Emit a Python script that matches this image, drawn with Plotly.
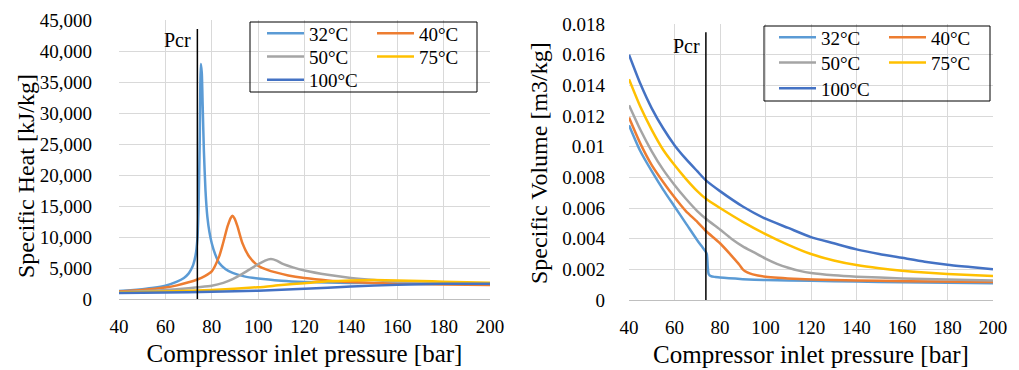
import plotly.graph_objects as go

# ---------------- data ----------------
temps = ["32°C", "40°C", "50°C", "75°C", "100°C"]
colors = ["#5B9BD5", "#ED7D31", "#A5A5A5", "#FFC000", "#4472C4"]

pcr = 73.8

# Specific heat [kJ/kg] vs pressure [bar]
cp32_p = [40, 45, 50, 55, 60, 65, 68, 70, 71, 72, 73, 73.8, 74.3, 74.8, 75.3, 75.7, 76.1, 76.6, 77.3, 78.1, 79, 80, 81.5, 83.2, 86, 89, 94, 100, 110, 120, 130, 140, 150, 160, 170, 180, 190, 200]
cp32 = [1300, 1420, 1580, 1800, 2150, 2800, 3400, 4100, 4700, 5500, 7000, 9600, 14500, 25000, 37900, 36500, 31000, 24000, 17500, 13300, 10800, 9000, 7200, 5800, 4800, 4200, 3650, 3300, 2950, 2750, 2650, 2600, 2550, 2500, 2480, 2460, 2440, 2420]

cp40_p = [40, 50, 60, 65, 70, 73.8, 77, 80, 83.2, 84.9, 86.8, 88.2, 88.9, 89.8, 91.1, 93.2, 96.1, 100, 104, 107.6, 113, 120, 130, 140, 150, 160, 180, 200]
cp40 = [1200, 1450, 1850, 2200, 2700, 3150, 3700, 4450, 6870, 9030, 11700, 13100, 13430, 13000, 11700, 9030, 6870, 5370, 4700, 4290, 3800, 3390, 3000, 2750, 2600, 2500, 2350, 2250]

cp50_p = [40, 50, 60, 70, 73.8, 80, 85, 89, 93, 96, 100, 103, 105.5, 108, 110.4, 115, 120, 130, 140, 150, 160, 170, 180, 190, 200]
cp50 = [1100, 1250, 1450, 1750, 1900, 2150, 2600, 3200, 4000, 4700, 5600, 6200, 6450, 6200, 5700, 5100, 4600, 3900, 3400, 3050, 2800, 2650, 2550, 2500, 2450]

cp75_p = [40, 60, 80, 100, 110, 120, 130, 140, 150, 160, 170, 180, 190, 200]
cp75 = [1050, 1200, 1450, 1900, 2250, 2550, 2850, 3000, 3050, 3000, 2900, 2800, 2700, 2620]

cp100_p = [40, 60, 80, 100, 120, 140, 160, 180, 200]
cp100 = [950, 1050, 1150, 1350, 1650, 2000, 2300, 2450, 2450]

# Specific volume [m3/kg] vs pressure [bar]
v32_p = [40, 45, 50, 55, 60, 65, 70, 72, 73.5, 74.2, 74.6, 75, 76, 78, 80, 90, 100, 120, 140, 160, 180, 200]
v32 = [0.0114, 0.0097, 0.0084, 0.0072, 0.0061, 0.0050, 0.0039, 0.0035, 0.0032, 0.0030, 0.0022, 0.0017, 0.00155, 0.0015, 0.00146, 0.00136, 0.0013, 0.00125, 0.0012, 0.00116, 0.00113, 0.0011]

v40_p = [40, 45, 50, 55, 60, 65, 70, 73.8, 80, 85.6, 88.5, 90, 92, 94.4, 100, 115, 130, 150, 175, 200]
v40 = [0.0119, 0.0102, 0.0088, 0.0077, 0.0067, 0.0058, 0.0051, 0.0045, 0.0037, 0.0028, 0.0023, 0.0020, 0.0018, 0.00167, 0.00152, 0.00137, 0.0013, 0.00125, 0.0012, 0.00117]

v50_p = [40, 45, 50, 55, 60, 65, 70, 73.8, 80, 85, 90, 95, 100, 105, 110, 115, 120, 130, 140, 160, 180, 200]
v50 = [0.0127, 0.0111, 0.0097, 0.0085, 0.0075, 0.0066, 0.0058, 0.0053, 0.0046, 0.0040, 0.0035, 0.0031, 0.0027, 0.00236, 0.0021, 0.0019, 0.00176, 0.00161, 0.00152, 0.00141, 0.00133, 0.00127]

v75_p = [40, 45, 50, 55, 60, 65, 70, 73.8, 80, 90, 100, 110, 120, 130, 140, 150, 160, 170, 180, 190, 200]
v75 = [0.0144, 0.0126, 0.0111, 0.0098, 0.0088, 0.0079, 0.0071, 0.0066, 0.0060, 0.0051, 0.0043, 0.0036, 0.0030, 0.00258, 0.00228, 0.00207, 0.00191, 0.00179, 0.0017, 0.00163, 0.00157]

v100_p = [40, 45, 50, 55, 60, 65, 70, 73.8, 80, 90, 100, 110, 120, 130, 140, 150, 160, 170, 180, 190, 200]
v100 = [0.0160, 0.0141, 0.0125, 0.0112, 0.0101, 0.0092, 0.0084, 0.0078, 0.0071, 0.0061, 0.0053, 0.0047, 0.0041, 0.0037, 0.0033, 0.0030, 0.00275, 0.0025, 0.0023, 0.00215, 0.0020]

x_ticks = [40, 60, 80, 100, 120, 140, 160, 180, 200]
cp_ticks = [0, 5000, 10000, 15000, 20000, 25000, 30000, 35000, 40000, 45000]
cp_ticktext = ["0", "5,000", "10,000", "15,000", "20,000", "25,000", "30,000", "35,000", "40,000", "45,000"]
v_ticks = [0, 0.002, 0.004, 0.006, 0.008, 0.01, 0.012, 0.014, 0.016, 0.018]
v_ticktext = ["0", "0.002", "0.004", "0.006", "0.008", "0.01", "0.012", "0.014", "0.016", "0.018"]

x_title = "Compressor inlet pressure [bar]"
cp_title = "Specific Heat [kJ/kg]"
v_title = "Specific Volume [m3/kg]"

# ---------------- figure ----------------
# page body has an 8px margin: figure drawn from (8, 8) in the window
OFF = 8
W, H = 1019 - OFF, 370 - OFF
FONT = "Liberation Serif"

def px_x(p):
    return (p - OFF) / W

def px_y(p):
    return 1 - (p - OFF) / H

cp_series = [(cp32_p, cp32), (cp40_p, cp40), (cp50_p, cp50), (cp75_p, cp75), (cp100_p, cp100)]
v_series = [(v32_p, v32), (v40_p, v40), (v50_p, v50), (v75_p, v75), (v100_p, v100)]

# legend rows: row index per series (2 columns)
row_of = [0, 0, 1, 1, 2]

fig = go.Figure()

for i, (xs, ys) in enumerate(cp_series):
    fig.add_trace(go.Scatter(
        x=xs, y=ys, mode="lines", name=temps[i],
        line=dict(color=colors[i], width=2.5, shape="spline", smoothing=0.6),
        xaxis="x", yaxis="y",
        legend="legend" if row_of[i] == 0 else f"legend{row_of[i] + 1}",
    ))

for i, (xs, ys) in enumerate(v_series):
    fig.add_trace(go.Scatter(
        x=xs, y=ys, mode="lines", name=temps[i],
        line=dict(color=colors[i], width=2.5, shape="spline", smoothing=0.6),
        xaxis="x2", yaxis="y2",
        legend=f"legend{row_of[i] + 4}",
    ))

grid = "#D9D9D9"
tickfont = dict(family=FONT, size=19, color="#000000")
xtitlefont = dict(family=FONT, size=25, color="#000000")
ytitlefont = dict(family=FONT, size=24, color="#000000")

common_x = dict(range=[40, 200], tickvals=x_ticks, showgrid=True, gridcolor=grid,
                gridwidth=1, zeroline=False, showline=True, linecolor="#BFBFBF",
                ticks="", tickfont=tickfont, ticklabelstandoff=10, automargin=False,
                title=dict(text=x_title, font=xtitlefont, standoff=8))

fig.update_layout(
    width=W, height=H,
    margin=dict(l=0, r=0, t=0, b=0),
    template="none",
    paper_bgcolor="white", plot_bgcolor="white",
    font=dict(family=FONT, color="#000000"),
    xaxis=dict(domain=[px_x(119), px_x(490)], anchor="y", **common_x),
    yaxis=dict(domain=[px_y(299), px_y(20)], anchor="x", range=[0, 45000],
               tickvals=cp_ticks, ticktext=cp_ticktext, showgrid=True, gridcolor=grid,
               zeroline=False, showline=False, ticks="", tickfont=tickfont,
               ticklabelstandoff=26, automargin=False),
    xaxis2=dict(domain=[px_x(629), px_x(993)], anchor="y2", **common_x),
    yaxis2=dict(domain=[px_y(300), px_y(24)], anchor="x2", range=[0, 0.018],
                tickvals=v_ticks, ticktext=v_ticktext, showgrid=True, gridcolor=grid,
                zeroline=False, showline=False, ticks="", tickfont=tickfont,
                ticklabelstandoff=23, automargin=False),
)

# y-axis titles (rotated), placed beside the tick labels
fig.add_annotation(x=px_x(26), y=px_y(176), xref="paper", yref="paper", text=cp_title,
                   textangle=-90, showarrow=False, xanchor="center", yanchor="middle",
                   font=ytitlefont)
fig.add_annotation(x=px_x(539), y=px_y(163), xref="paper", yref="paper", text=v_title,
                   textangle=-90, showarrow=False, xanchor="center", yanchor="middle",
                   font=ytitlefont)

# legends: one horizontal legend per row
legend_rows_left = [33.3, 56.7, 80.0]
legend_rows_right = [37.3, 62.7, 88.3]
leg_common = dict(orientation="h", xanchor="left", yanchor="middle",
                  bgcolor="rgba(0,0,0,0)", borderwidth=0, itemwidth=37,
                  entrywidth=58, entrywidthmode="pixels",
                  font=dict(family=FONT, size=19, color="#000000"),
                  itemclick=False, itemdoubleclick=False)
legend_layout = {}
for r in range(3):
    key = "legend" if r == 0 else f"legend{r + 1}"
    legend_layout[key] = dict(x=px_x(262), y=px_y(legend_rows_left[r]), **leg_common)
    legend_layout[f"legend{r + 4}"] = dict(x=px_x(774), y=px_y(legend_rows_right[r]), **leg_common)
fig.update_layout(**legend_layout)

# legend boxes
fig.add_shape(type="rect", xref="paper", yref="paper",
              x0=px_x(250), x1=px_x(477), y0=px_y(92), y1=px_y(22),
              line=dict(color="#000000", width=1), fillcolor="rgba(0,0,0,0)", layer="above")
fig.add_shape(type="rect", xref="paper", yref="paper",
              x0=px_x(764), x1=px_x(990), y0=px_y(101), y1=px_y(26),
              line=dict(color="#000000", width=1), fillcolor="rgba(0,0,0,0)", layer="above")

# Pcr lines
fig.add_shape(type="line", xref="x", yref="y", x0=pcr, x1=pcr, y0=0, y1=43550,
              line=dict(color="#000000", width=1.5), layer="above")
fig.add_shape(type="line", xref="x2", yref="y2", x0=pcr, x1=pcr, y0=0, y1=0.01746,
              line=dict(color="#000000", width=1.5), layer="above")
fig.add_annotation(x=pcr, y=41800, xref="x", yref="y", text="Pcr", showarrow=False,
                   xanchor="right", xshift=-4, font=dict(family=FONT, size=20, color="#000000"))
fig.add_annotation(x=pcr, y=0.01659, xref="x2", yref="y2", text="Pcr", showarrow=False,
                   xanchor="right", xshift=-4, font=dict(family=FONT, size=20, color="#000000"))

fig.write_html("out.html")
